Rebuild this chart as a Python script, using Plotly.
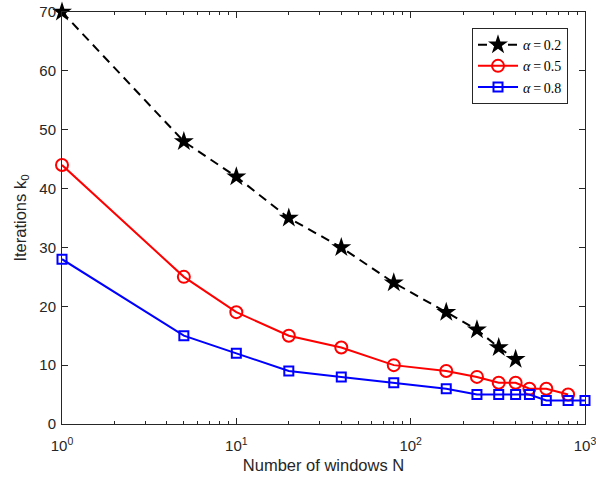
import plotly.graph_objects as go

N_black = [1, 5, 10, 20, 40, 80, 160, 240, 320, 400]
k_black = [70, 48, 42, 35, 30, 24, 19, 16, 13, 11]
N_red = [1, 5, 10, 20, 40, 80, 160, 240, 320, 400, 480, 600, 800]
k_red = [44, 25, 19, 15, 13, 10, 9, 8, 7, 7, 6, 6, 5]
N_blue = [1, 5, 10, 20, 40, 80, 160, 240, 320, 400, 480, 600, 800, 1000]
k_blue = [28, 15, 12, 9, 8, 7, 6, 5, 5, 5, 5, 4, 4, 4]
labels = ["<i>α</i>\u2009=\u20090.2", "<i>α</i>\u2009=\u20090.5", "<i>α</i>\u2009=\u20090.8"]

fig = go.Figure()
fig.add_trace(go.Scatter(x=N_black, y=k_black, name=labels[0], mode="lines+markers", cliponaxis=False,
                         line=dict(color="black", width=2, dash="9px,6px"),
                         marker=dict(symbol="star", size=15, color="black")))
fig.add_trace(go.Scatter(x=N_red, y=k_red, name=labels[1], mode="lines+markers", cliponaxis=False,
                         line=dict(color="#ff0000", width=2),
                         marker=dict(symbol="circle-open", size=12, color="#ff0000", line=dict(width=2))))
fig.add_trace(go.Scatter(x=N_blue, y=k_blue, name=labels[2], mode="lines+markers", cliponaxis=False,
                         line=dict(color="#0000ff", width=2),
                         marker=dict(symbol="square-open", size=9, color="#0000ff", line=dict(width=2))))

minor_vals = [m * d for d in (1, 10, 100) for m in range(2, 10)]
axis_col = "#262626"
fig.update_layout(
    width=596, height=481,
    margin=dict(l=62, r=11, t=12, b=57),
    paper_bgcolor="white", plot_bgcolor="white",
    font=dict(family="Liberation Sans, Arial, sans-serif", size=15, color="#262626"),
    showlegend=True,
    legend=dict(x=0.9675, y=0.961, xanchor="right", yanchor="top",
                bgcolor="white", bordercolor=axis_col, borderwidth=1,
                font=dict(family="Liberation Serif, Times New Roman, serif", size=14, color="black"),
                itemwidth=40, tracegroupgap=0),
    xaxis=dict(type="log", range=[0, 3], showgrid=False, zeroline=False, automargin=False,
               showline=True, linecolor=axis_col, linewidth=1, mirror="ticks",
               ticks="inside", ticklen=6, tickcolor=axis_col, ticklabelstandoff=8,
               ticklabeloverflow="allow",
               tickvals=[1, 10, 100, 1000],
               ticktext=["10<sup>0</sup>", "10<sup>1</sup>", "10<sup>2</sup>", "10<sup>3</sup>"],
               minor=dict(tickvals=minor_vals, ticks="inside", ticklen=3, tickcolor=axis_col, showgrid=False),
               title=dict(text="Number of windows N", standoff=6, font=dict(size=16.5))),
    yaxis=dict(range=[0, 70], dtick=10, showgrid=False, zeroline=False, automargin=False,
               showline=True, linecolor=axis_col, linewidth=1, mirror="ticks",
               ticks="inside", ticklen=6, tickcolor=axis_col, ticklabelstandoff=2,
               ticklabeloverflow="allow",
               title=dict(text="Iterations k<sub>0</sub>", standoff=8, font=dict(size=16.5))),
)
fig.write_html("out.html")
